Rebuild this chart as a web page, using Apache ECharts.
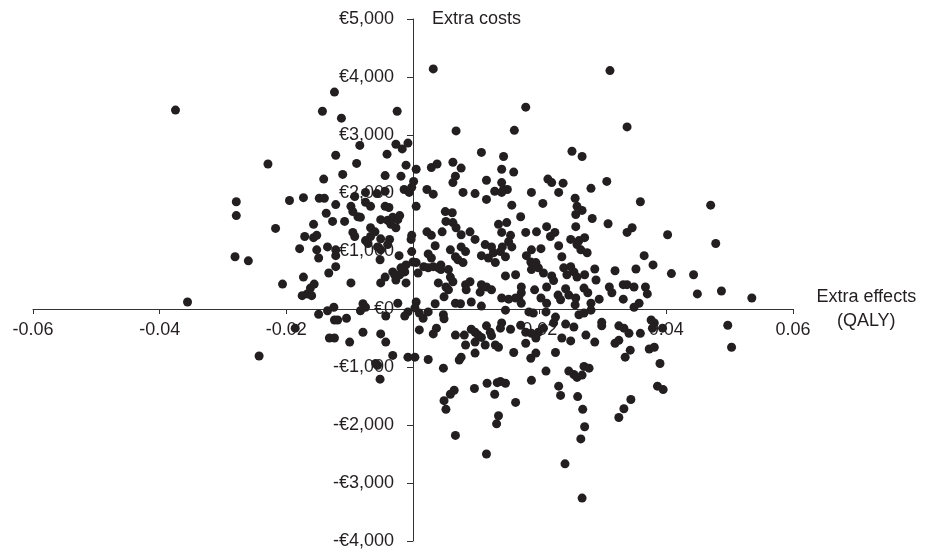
<!DOCTYPE html>
<html>
<head>
<meta charset="utf-8">
<script src="https://cdn.jsdelivr.net/npm/echarts@6/dist/echarts.min.js"></script>
<style>
  html, body { margin: 0; padding: 0; background: #fff; }
  #main { width: 935px; height: 553px; }
</style>
</head>
<body>
<div id="main"></div>
<script>
// incremental effect (QALY) of each bootstrap replicate
var effectDiff = [
  -0.0375, -0.0143, -0.0124, -0.0113, -0.0025, -0.0084, -0.0027, -0.0017, -0.0008, 0.0032,
  0.0311, 0.0178, 0.0068, 0.0160, 0.0338, -0.0229, -0.0122, -0.0141, -0.0279, -0.0279,
  -0.0195, -0.0173, -0.0148, -0.0140, -0.0122, -0.0137, -0.0127, -0.0157, -0.0217, -0.0171,
  -0.0157, -0.0152, -0.0179, -0.0152, -0.0149, -0.0135, -0.0122, -0.0122, -0.0281, -0.0260,
  -0.0122, -0.0133, -0.0173, -0.0206, -0.0156, -0.0162, -0.0167, -0.0175, -0.0160, -0.0356,
  -0.0125, -0.0041, 0.0108, -0.0089, -0.0011, 0.0005, 0.0029, 0.0038, 0.0063, 0.0076,
  -0.0111, -0.0044, -0.0019, 0.0067, 0.0063, 0.0001, -0.0002, 0.0116, -0.0014, -0.0006,
  0.0022, 0.0032, 0.0079, 0.0098, 0.0116, 0.0129, -0.0098, -0.0095, -0.0075, -0.0067,
  -0.0044, -0.0038, 0.0005, 0.0051, 0.0062, -0.0108, -0.0087, -0.0083, -0.0051, -0.0040,
  -0.0032, -0.0024, -0.0021, -0.0035, -0.0027, 0.0052, 0.0063, 0.0068, 0.0076, 0.0090,
  0.0022, 0.0046, -0.0067, -0.0060, -0.0095, -0.0092, -0.0067, -0.0075, -0.0071, -0.0051,
  -0.0037, -0.0040, -0.0056, -0.0051, -0.0052, -0.0002, -0.0003, -0.0002, 0.0098, 0.0029,
  0.0035, 0.0076, 0.0083, 0.0114, 0.0124, 0.0059, 0.0024, 0.0029, -0.0022, 0.0067,
  0.0071, 0.0079, 0.0044, 0.0108, 0.0119, 0.0127, 0.0130, -0.0011, 0.0000, 0.0005,
  -0.0019, -0.0013, -0.0021, -0.0027, -0.0032, -0.0029, 0.0017, 0.0024, 0.0032, 0.0040,
  0.0044, 0.0008, 0.0056, 0.0059, 0.0063, -0.0044, -0.0051, 0.0040, -0.0011, -0.0098,
  0.0083, 0.0090, 0.0084, 0.0108, 0.0116, 0.0106, 0.0124, 0.0052, 0.0056, 0.0049,
  -0.0079, -0.0075, -0.0024, 0.0005, 0.0035, 0.0067, 0.0075, 0.0108, -0.0092, -0.0075,
  -0.0057, -0.0044, 0.0143, 0.0140, 0.0159, 0.0140, 0.0143, 0.0149, 0.0140, 0.0213,
  0.0219, 0.0187, 0.0156, 0.0205, 0.0170, 0.0148, 0.0211, 0.0224, 0.0217, 0.0135,
  0.0178, 0.0195, 0.0140, 0.0154, 0.0151, 0.0141, 0.0138, 0.0146, 0.0156, 0.0202,
  0.0187, 0.0179, 0.0186, 0.0194, 0.0198, 0.0187, 0.0206, 0.0219, 0.0222, 0.0146,
  0.0162, 0.0171, 0.0171, 0.0167, 0.0192, 0.0211, 0.0229, 0.0140, 0.0151, 0.0162,
  0.0171, 0.0202, 0.0211, 0.0251, 0.0267, 0.0237, 0.0230, 0.0281, 0.0306, 0.0359,
  0.0470, 0.0256, 0.0259, 0.0267, 0.0257, 0.0283, 0.0257, 0.0308, 0.0346, 0.0338,
  0.0402, 0.0478, 0.0230, 0.0235, 0.0249, 0.0262, 0.0271, 0.0259, 0.0265, 0.0275,
  0.0365, 0.0379, 0.0352, 0.0319, 0.0287, 0.0238, 0.0249, 0.0254, 0.0259, 0.0243,
  0.0271, 0.0289, 0.0408, 0.0443, 0.0233, 0.0241, 0.0246, 0.0270, 0.0276, 0.0294,
  0.0310, 0.0314, 0.0332, 0.0338, 0.0349, 0.0367, 0.0370, 0.0332, 0.0357, 0.0349,
  0.0257, 0.0256, 0.0281, 0.0449, 0.0487, 0.0535, -0.0149, -0.0135, -0.0124, -0.0186,
  -0.0132, -0.0124, -0.0243, -0.0083, -0.0105, -0.0119, -0.0043, -0.0008, -0.0013, 0.0010,
  0.0016, 0.0024, 0.0048, 0.0049, -0.0079, -0.0100, -0.0051, -0.0043, 0.0010, 0.0037,
  0.0032, 0.0067, 0.0081, 0.0092, 0.0098, 0.0103, 0.0116, 0.0122, 0.0124, 0.0083,
  0.0098, 0.0108, 0.0114, 0.0130, -0.0032, -0.0008, 0.0003, 0.0024, 0.0073, 0.0076,
  0.0098, -0.0059, -0.0056, -0.0052, 0.0048, 0.0065, 0.0059, 0.0049, 0.0052, 0.0097,
  0.0117, 0.0129, 0.0133, 0.0132, 0.0003, 0.0092, 0.0146, 0.0183, 0.0190, 0.0210,
  0.0262, 0.0270, 0.0281, 0.0222, 0.0225, 0.0241, 0.0254, 0.0140, 0.0138, 0.0154,
  0.0170, 0.0178, 0.0187, 0.0198, 0.0206, 0.0194, 0.0235, 0.0249, 0.0273, 0.0287,
  0.0159, 0.0178, 0.0186, 0.0194, 0.0225, 0.0135, 0.0210, 0.0246, 0.0254, 0.0259,
  0.0267, 0.0270, 0.0278, 0.0138, 0.0146, 0.0187, 0.0230, 0.0233, 0.0260, 0.0162,
  0.0268, 0.0271, 0.0135, 0.0298, 0.0298, 0.0325, 0.0333, 0.0341, 0.0359, 0.0376,
  0.0381, 0.0378, 0.0394, 0.0497, 0.0503, 0.0319, 0.0325, 0.0343, 0.0335, 0.0373,
  0.0381, 0.0390, 0.0386, 0.0395, 0.0344, 0.0333, 0.0325, 0.0067, 0.0116, 0.0240,
  0.0267, 0.0265
];

// incremental cost (euro) of the same replicates
var costDiff = [
  3430, 3410, 3740, 3290, 3410, 2820, 2840, 2760, 2860, 4140,
  4110, 3480, 3070, 3080, 3140, 2500, 2650, 2240, 1850, 1610,
  1870, 1920, 1910, 1910, 1800, 1650, 1510, 1460, 1390, 1250,
  1230, 1270, 1040, 1020, 880, 1070, 1020, 920, 900, 830,
  730, 620, 550, 430, 430, 360, 260, 230, 230, 120,
  30, 2670, 2700, 2510, 2480, 2410, 2440, 2500, 2530, 2430,
  2320, 2300, 2290, 2290, 2180, 2200, 2100, 2220, 2060, 2010,
  2060, 1980, 2010, 1990, 1890, 2030, 1770, 1680, 1840, 1770,
  1770, 1750, 1770, 1680, 1660, 1510, 1590, 1580, 1540, 1530,
  1580, 1540, 1610, 1460, 1400, 1510, 1490, 1400, 1280, 1330,
  1330, 1330, 1400, 1330, 1320, 1250, 1250, 1180, 1130, 1210,
  1200, 1110, 1070, 1020, 850, 1270, 1200, 990, 1200, 1270,
  1090, 1070, 990, 1110, 1070, 1020, 950, 880, 920, 900,
  850, 800, 760, 920, 880, 970, 800, 760, 810, 800,
  710, 640, 590, 500, 640, 590, 730, 710, 730, 710,
  680, 620, 680, 550, 470, 550, 450, 450, 450, 450,
  420, 470, 330, 420, 380, 290, 330, 380, 330, 210,
  90, 30, 100, 120, 90, 100, 90, 50, 1940, 2010,
  1990, 2030, 2630, 2410, 2360, 2180, 2060, 2060, 2010, 2240,
  2180, 2010, 1790, 1820, 1590, 1490, 1420, 1320, 1250, 1460,
  1320, 1330, 1320, 1270, 1160, 1070, 990, 900, 1070, 1040,
  1020, 920, 810, 800, 710, 680, 620, 570, 490, 570,
  590, 380, 280, 190, 330, 380, 240, 190, 170, 190,
  100, 190, 100, 2720, 2630, 2170, 2010, 2080, 2200, 1850,
  1790, 1910, 1770, 1700, 1630, 1560, 1420, 1470, 1400, 1320,
  1280, 1130, 1090, 900, 1200, 1180, 1230, 1110, 1020, 970,
  920, 760, 690, 660, 690, 710, 730, 640, 550, 590,
  590, 500, 610, 590, 160, 350, 240, 360, 280, 170,
  380, 280, 420, 420, 380, 380, 260, 170, 100, 30,
  190, 70, 100, 260, 310, 190, -90, -30, -190, -330,
  -500, -500, -810, -30, -160, -190, -120, -50, -120, -70,
  -160, -50, -100, -170, -400, -570, -430, -570, -360, -330,
  -430, -450, -450, -350, -400, -450, -290, -400, -460, -620,
  -570, -490, -620, -620, -800, -830, -830, -870, -880, -830,
  -760, -940, -970, -1210, -1020, -1400, -1470, -1580, -1730, -1370,
  -1280, -1470, -1270, -1980, 20, 120, -20, -50, -70, -50,
  -100, -70, -20, -240, -140, -260, -310, -240, -330, -350,
  -280, -400, -420, -400, -330, -500, -500, -550, -450, -570,
  -750, -590, -850, -760, -750, -660, -1070, -1070, -1130, -1180,
  -1140, -990, -1020, -1250, -1280, -1230, -1330, -1490, -1510, -1610,
  -1730, -2030, -1840, -230, -290, -290, -330, -420, -420, -190,
  -240, -330, -330, -280, -660, -590, -540, -710, -830, -690,
  -660, -940, -1330, -1390, -1560, -1720, -1870, -2180, -2500, -2670,
  -3260, -2240
];

var effectTicks = { min: -0.06, max: 0.06, step: 0.02 };
var costTicks = { min: -4000, max: 5000, step: 1000 };

var points = effectDiff.map(function (x, i) { return [x, costDiff[i]]; });

function euro(v) {
  var s = String(Math.abs(v)).replace(/\B(?=(\d{3})+(?!\d))/g, ',');
  return (v < 0 ? '-' : '') + '\u20ac' + s;
}

var ink = '#231f20';
var font = 'Liberation Sans, Arial, sans-serif';

// plot box; the two axes cross at (0, 0) inside it
var box = { left: 33, right: 142, top: 19, bottom: 12 };
var plotW = 935 - box.left - box.right;
var plotH = 553 - box.top - box.bottom;
// distance of the zero lines from the grid edges
var xAxisShift = plotH * (0 - costTicks.min) / (costTicks.max - costTicks.min);
var yAxisShift = plotW * (0 - effectTicks.min) / (effectTicks.max - effectTicks.min);

var myChart = echarts.init(document.getElementById('main'));
var option = {
  animation: false,
  backgroundColor: '#fff',
  grid: {
    left: box.left, right: box.right, top: box.top, bottom: box.bottom,
    containLabel: false, outerBoundsMode: 'none'
  },
  xAxis: {
    type: 'value',
    position: 'bottom',
    offset: -xAxisShift,
    min: effectTicks.min,
    max: effectTicks.max,
    interval: effectTicks.step,
    name: 'Extra effects\n(QALY)',
    nameLocation: 'end',
    nameGap: 67,
    nameTextStyle: { color: ink, fontFamily: font, fontSize: 18, align: 'center', verticalAlign: 'middle', lineHeight: 24, padding: [12, 0, 0, 0] },
    axisLine: { onZero: false, lineStyle: { color: '#333', width: 1 } },
    axisTick: { show: true, inside: false, length: 5, lineStyle: { color: '#333' } },
    axisLabel: {
      color: ink, fontFamily: font, fontSize: 18, margin: 12,
      formatter: function (v) { return v === 0 ? '' : v.toFixed(2); }
    },
    splitLine: { show: false }
  },
  yAxis: {
    type: 'value',
    position: 'left',
    offset: -yAxisShift,
    min: costTicks.min,
    max: costTicks.max,
    interval: costTicks.step,
    name: 'Extra costs',
    nameLocation: 'end',
    nameGap: 0,
    nameTextStyle: { color: ink, fontFamily: font, fontSize: 18, align: 'left', verticalAlign: 'middle', padding: [0, 0, 0, 19] },
    axisLine: { onZero: false, lineStyle: { color: '#333', width: 1 } },
    axisTick: { show: true, inside: false, length: 6, lineStyle: { color: '#333' } },
    axisLabel: { color: ink, fontFamily: font, fontSize: 18, margin: 19, formatter: euro },
    splitLine: { show: false }
  },
  series: [
    {
      type: 'scatter',
      name: 'bootstrap',
      symbol: 'circle',
      symbolSize: 9,
      itemStyle: { color: ink, opacity: 1 },
      emphasis: { disabled: true },
      data: points
    }
  ]
};
myChart.setOption(option);
</script>
</body>
</html>
